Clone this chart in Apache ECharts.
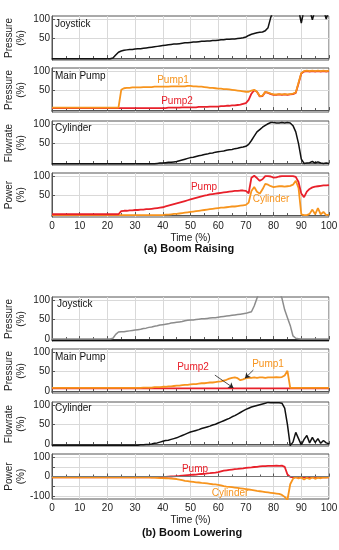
<!DOCTYPE html>
<html>
<head>
<meta charset="utf-8">
<script src="https://cdn.jsdelivr.net/npm/echarts@6/dist/echarts.min.js"></script>
<style>
  html, body { margin: 0; padding: 0; background: #fff; }
  #chart { width: 339px; height: 550px; }
</style>
</head>
<body>
<div id="chart"></div>
<script>
// time axis (%), shared by most of the traces
const time = [0,1,2,3,4,5,6,7,8,9,10,11,12,13,14,15,16,17,18,19,20,21,22,23,24,25,26,27,28,29,30,31,32,33,34,35,36,37,38,39,40,
  41,42,43,44,45,46,47,48,49,50,51,52,53,54,55,56,57,58,59,60,61,62,63,64,65,66,67,68,69,70,71,72,73,74,75,76,77,78,79,80,
  81,82,83,84,85,86,87,88,89,90,91,92,93,94,95,96,97,98,99,100];
const xTicks = [0, 10, 20, 30, 40, 50, 60, 70, 80, 90, 100];

// (a) Boom Raising
const joyA = [-2,-2,-2,-2,-2,-2,-2,-2,-2,-2,-2,-2,-2,-2,-2,-2,-2,-2,-2,-2,-2,-2,0,8,15,18,20,21,22,22,23,24,24,25,26,27,28,29,30,31,32,
  33,34,35,36,36,37,38,39,39,40,41,41,42,43,43,44,44,45,45,46,47,47,48,48,49,49,50,51,52,54,58,61,63,65,66,67,70,78,105,125,
  125,125,125,125,125,125,125,125,125,90,125,125,125,98,125,125,125,125,100,125];
const pump1A = [6,6,6,6,6,6,6,6,6,6,6,6,6,6,6,6,6,6,6,6,6,6,6,6,6,52,56,57,57,58,58,58,58,59,59,59,59,60,60,60,60,
  60,60,61,61,61,61,61,61,62,62,61,61,60,60,59,58,57,57,56,55,55,54,54,53,52,51,50,49,48,47,47,50,52,47,36,37,47,45,42,40,
  40,41,40,41,40,41,42,45,70,95,100,101,100,101,100,101,100,101,100,101];
const pump2A = [5,5,5,5,5,5,5,5,5,5,5,5,5,5,5,5,5,5,5,5,5,5,5,5,5,5,5,5,5,5,5,5,5,5,5,5,5,5,5,5,5,
  5,6,6,6,6,6,7,7,7,7,7,7,8,8,8,8,9,9,9,9,10,10,11,11,12,12,13,14,16,18,26,42,51,47,35,36,46,44,41,39,
  39,40,39,40,39,40,41,44,68,94,99,100,99,100,99,100,99,100,99,100];
const cylFlowA = [-2,-2,-2,-2,-2,-2,-2,-2,-2,-2,-2,-2,-2,-2,-2,-2,-2,-2,-2,-2,-2,-2,-2,-2,-2,-2,-2,-2,-2,-2,-2,-2,-2,-2,-2,-2,-2,-2,-1,0,0,
  1,2,2,3,4,6,8,10,12,14,15,17,19,20,22,23,25,26,28,29,30,31,33,34,35,37,38,40,41,43,48,58,69,80,86,92,97,101,104,104,
  103,103,104,103,104,103,96,80,50,10,-1,0,1,4,0,3,0,-1,0,-1];
const pumpPowA = [2,2,2,2,2,2,2,2,2,2,2,2,2,2,2,2,2,2,2,2,2,2,2,2,2,10,11,11,12,12,13,13,14,14,15,15,16,17,18,19,20,
  22,24,26,28,30,32,34,36,38,40,42,44,46,48,50,51,53,54,55,56,57,58,59,60,61,62,62,63,63,62,56,96,101,95,88,92,100,100,99,96,
  97,99,100,100,100,100,100,98,85,55,46,60,67,71,73,74,75,76,76,77];
const cylPowA = [0,0,0,0,0,0,0,0,0,0,0,0,0,0,0,0,0,0,0,0,0,0,0,0,0,0,0,0,0,0,0,0,0,0,0,0,0,0,0,0,0,
  1,1,2,3,3,4,5,6,7,8,9,10,11,12,13,14,15,16,17,18,19,19,20,21,22,22,23,24,25,26,32,62,72,60,55,66,80,78,74,72,
  73,74,74,73,74,75,78,88,70,2,0,0,3,14,2,18,2,8,0,1];

// (b) Boom Lowering
const joyB = [0,0,0,0,0,0,0,0,0,0,0,0,0,0,0,0,0,0,0,0,0,0,2,12,18,19,19,20,21,22,23,24,25,27,28,30,31,33,34,36,37,
  38,39,41,42,43,44,45,47,48,49,49,50,51,52,52,53,54,55,55,56,57,58,59,60,61,62,63,64,65,66,68,70,85,105,125,125,125,125,125,125,
  125,125,105,75,55,35,8,2,1,0,0,0,0,0,0,0,0,0,0,0];
const joyBaseTime = [0, 100];
const joyBase = [-3, -3];
const pump1B = [8,8,8,8,8,8,8,8,8,8,8,8,8,8,8,8,8,8,8,8,8,8,8,8,8,8,8,8,8,8,8,8,8,9,9,9,9,10,10,10,11,
  11,12,12,13,14,14,15,16,16,17,18,18,19,20,20,21,22,22,23,24,25,27,29,32,34,35,33,28,30,33,34,34,35,34,35,35,34,35,35,35,
  36,35,36,40,52,8,8,8,8,8,8,8,8,8,8,8,8,8,8,8];
const pump2BTime = [0, 100];
const pump2B = [7, 7];
const cylFlowB = [-3,-3,-3,-3,-3,-3,-3,-3,-3,-3,-3,-3,-3,-3,-3,-3,-3,-3,-3,-3,-3,-3,-3,-3,-3,-3,-3,-3,-3,-3,-3,-3,-2,-2,-1,-1,0,2,3,5,7,
  9,10,12,14,16,19,22,25,28,31,33,35,37,40,42,44,46,49,51,54,57,60,63,66,70,73,77,81,85,89,92,95,97,99,101,103,105,107,106,106,
  106,106,105,92,50,-4,5,30,14,-2,12,22,3,17,4,14,2,9,3,1];
const pumpPowB = [-4,-4,-4,-4,-4,-4,-4,-4,-4,-4,-4,-4,-4,-4,-4,-4,-4,-4,-4,-4,-4,-4,-4,-4,-4,-4,-4,-4,-4,-4,-4,-4,-4,-4,-4,-4,-4,-4,-4,-4,-3,
  -2,-1,0,1,2,3,5,6,7,8,9,10,12,13,14,16,17,19,20,22,26,30,32,34,36,38,39,41,42,44,46,47,49,50,52,53,54,55,55,55,
  56,55,56,50,10,-2,-4,-4,-4,-4,-4,-4,-4,-4,-4,-4,-4,-4,-4,-4];
const cylPowB = [-5,-5,-5,-5,-5,-5,-5,-5,-5,-5,-5,-5,-5,-5,-5,-5,-5,-5,-5,-5,-5,-5,-5,-5,-5,-5,-5,-5,-5,-5,-5,-5,-5,-5,-5,-5,-6,-6,-7,-8,-8,
  -9,-10,-11,-12,-13,-16,-19,-22,-24,-26,-28,-30,-31,-33,-34,-36,-38,-40,-41,-43,-46,-50,-52,-53,-55,-57,-59,-61,-63,-65,-67,-69,-71,-74,-76,-78,-80,-82,-84,-86,
  -88,-90,-95,-105,-120,-40,-12,-3,-10,-5,-16,-7,-13,-4,-12,-6,-9,-4,-6,-3];

// arrows pointing from the labels to the lines in panel (b) Main Pump, [time, value]
const pump2Arrow = [[58.8, 41], [65.5, 8]];
const pump1Arrow = [[72.7, 54], [69.7, 33]];

const FONT = '"Liberation Sans", Arial, Helvetica, sans-serif';
const ORANGE = '#f7941d';
const RED = '#e8202a';
const BLACK = '#111111';
const GRAY = '#8c8c8c';
const FRAME = '#555555';
const GRID = '#d9d9d9';

const panels = [
    {top: 16, height: 44, yName: 'Pressure\n(%)', min: -5, max: 108, labels: [50, 100], ticks: [0, 50, 100]},
    {top: 68, height: 44, yName: 'Pressure\n(%)', min: -5, max: 108, labels: [50, 100], ticks: [0, 50, 100]},
    {top: 121, height: 44, yName: 'Flowrate\n(%)', min: -5, max: 108, labels: [50, 100], ticks: [0, 50, 100]},
    {top: 173, height: 44, yName: 'Power\n(%)', min: -5, max: 108, labels: [50, 100], ticks: [0, 50, 100], xLabel: true},
    {top: 297, height: 44, yName: 'Pressure\n(%)', min: -5, max: 108, labels: [0, 50, 100], ticks: [0, 50, 100]},
    {top: 349, height: 44, yName: 'Pressure\n(%)', min: -5, max: 108, labels: [0, 50, 100], ticks: [0, 50, 100]},
    {top: 402, height: 44, yName: 'Flowrate\n(%)', min: -5, max: 108, labels: [0, 50, 100], ticks: [0, 50, 100]},
    {top: 454, height: 45, yName: 'Power\n(%)', min: -116, max: 116, labels: [-100, 0, 100], ticks: [-100, -50, 0, 50, 100], xLabel: true}
];

const pairs = (xs, ys) => xs.map((x, i) => [x, ys[i]]);

const line = (idx, xs, ys, color, width, extra) => Object.assign({
    type: 'line',
    xAxisIndex: idx,
    yAxisIndex: idx,
    data: pairs(xs, ys),
    showSymbol: false,
    symbol: 'none',
    silent: true,
    lineStyle: {color: color, width: width},
    itemStyle: {color: color}
}, extra || {});

const txt = (x, y, s, color, extra) => ({
    type: 'text',
    x: x,
    y: y,
    z: 100,
    silent: true,
    style: Object.assign({text: s, fill: color, font: '10px ' + FONT, align: 'left', verticalAlign: 'middle'}, extra || {})
});

const arrow = (pts) => ({
    silent: true,
    symbol: ['none', 'arrow'],
    symbolSize: 5,
    label: {show: false},
    lineStyle: {color: '#222', width: 0.8, type: 'solid'},
    data: [[{coord: pts[0]}, {coord: pts[1]}]]
});

const myChart = echarts.init(document.getElementById('chart'), null, {renderer: 'canvas'});

const option = {
    animation: false,
    textStyle: {fontFamily: FONT},
    grid: panels.map(p => ({
        left: 52, right: 10, top: p.top, height: p.height,
        show: true, borderColor: FRAME, borderWidth: 1, backgroundColor: 'transparent',
        containLabel: false, outerBoundsMode: 'none'
    })),
    xAxis: panels.map((p, i) => ({
        type: 'value', gridIndex: i, min: 0, max: 100, interval: 10,
        axisLine: {show: true, lineStyle: {color: FRAME, width: 1}},
        axisTick: {show: true, inside: true, length: 3, lineStyle: {color: FRAME}},
        minorTick: {show: true, splitNumber: 2, length: 2, lineStyle: {color: FRAME}},
        splitLine: {show: true, lineStyle: {color: GRID, width: 1}},
        axisLabel: {show: !!p.xLabel, fontSize: 10, color: '#222', margin: 4, customValues: xTicks},
        name: p.xLabel ? 'Time (%)' : '',
        nameLocation: 'middle', nameGap: 16, nameMoveOverlap: false,
        nameTextStyle: {fontSize: 10, color: '#222'}
    })),
    yAxis: panels.map((p, i) => ({
        type: 'value', gridIndex: i, min: p.min, max: p.max,
        axisLine: {show: true, lineStyle: {color: FRAME, width: 1}},
        axisTick: {show: true, inside: true, length: 3, customValues: p.ticks, lineStyle: {color: FRAME}},
        splitLine: {show: true, lineStyle: {color: GRID, width: 1}},
        axisLabel: {fontSize: 10, color: '#222', margin: 2, customValues: p.labels},
        name: p.yName, nameLocation: 'middle', nameRotate: 90, nameGap: 25, nameMoveOverlap: false,
        nameTextStyle: {fontSize: 10, color: '#222', lineHeight: 12}
    })),
    series: [
        line(0, time, joyA, BLACK, 1.5),
        line(1, time, pump2A, RED, 1.8),
        line(1, time, pump1A, ORANGE, 1.8),
        line(2, time, cylFlowA, BLACK, 1.5),
        line(3, time, cylPowA, ORANGE, 1.8),
        line(3, time, pumpPowA, RED, 1.8),
        line(4, joyBaseTime, joyBase, BLACK, 1.5),
        line(4, time, joyB, GRAY, 1.5),
        line(5, pump2BTime, pump2B, RED, 1.8, {markLine: arrow(pump2Arrow)}),
        line(5, time, pump1B, ORANGE, 1.8, {markLine: arrow(pump1Arrow)}),
        line(6, time, cylFlowB, BLACK, 1.5),
        line(7, time, pumpPowB, RED, 1.8, {
            markLine: {silent: true, symbol: 'none', label: {show: false},
                lineStyle: {color: '#777', width: 1, type: 'solid'}, data: [{yAxis: 0}]}
        }),
        line(7, time, cylPowB, ORANGE, 1.8)
    ],
    graphic: [
        txt(55, 24, 'Joystick', '#111'),
        txt(55, 76, 'Main Pump', '#111'),
        txt(55, 128, 'Cylinder', '#111'),
        txt(173, 80, 'Pump1', ORANGE, {align: 'center'}),
        txt(177, 101, 'Pump2', RED, {align: 'center'}),
        txt(204, 187, 'Pump', RED, {align: 'center'}),
        txt(271, 199, 'Cylinder', ORANGE, {align: 'center'}),
        txt(189, 249, '(a) Boom Raising', '#111', {align: 'center', font: 'bold 11px ' + FONT}),
        txt(57, 304, 'Joystick', '#111'),
        txt(55, 357, 'Main Pump', '#111'),
        txt(55, 408, 'Cylinder', '#111'),
        txt(193, 367, 'Pump2', RED, {align: 'center'}),
        txt(268, 364, 'Pump1', ORANGE, {align: 'center'}),
        txt(195, 469, 'Pump', RED, {align: 'center'}),
        txt(230, 493, 'Cylinder', ORANGE, {align: 'center'}),
        txt(192, 533, '(b) Boom Lowering', '#111', {align: 'center', font: 'bold 11px ' + FONT})
    ]
};

myChart.setOption(option);
</script>
</body>
</html>
